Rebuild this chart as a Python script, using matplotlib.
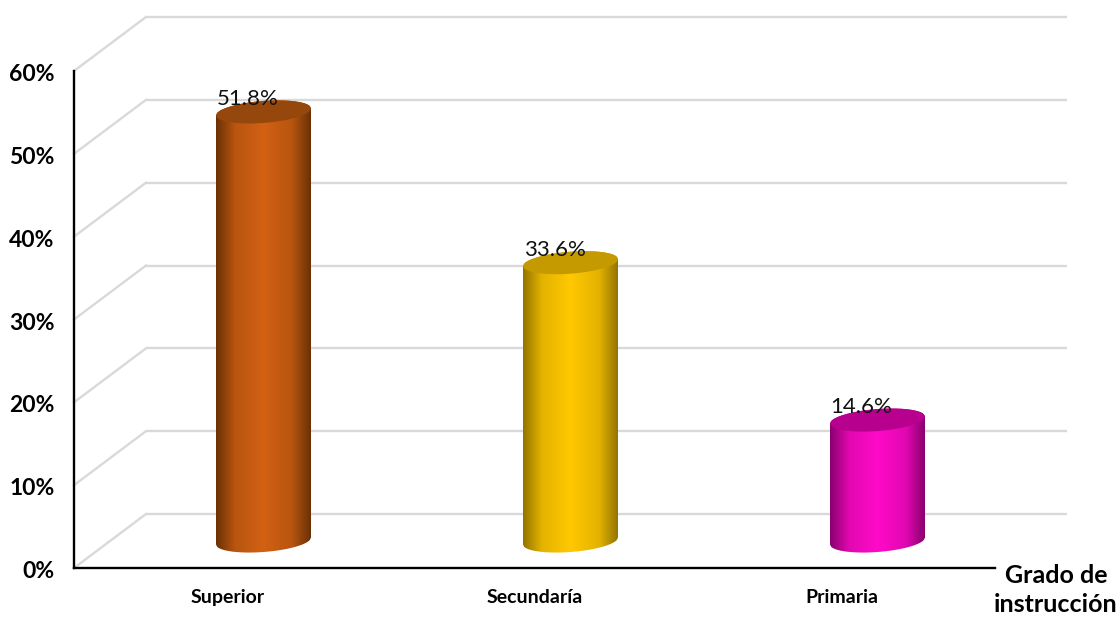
import matplotlib.pyplot as plt
import numpy as np
from matplotlib.colors import LinearSegmentedColormap, to_rgb
from matplotlib.patches import Polygon
from matplotlib.transforms import ScaledTranslation

# Data
categories = ['Superior', 'Secundaría', 'Primaria']
values = [51.8, 33.6, 14.6]
y_ticks = [0, 10, 20, 30, 40, 50, 60]
y_tick_labels = ['0%', '10%', '20%', '30%', '40%', '50%', '60%']

edge_colors = ['#6a3106', '#947400', '#8a006e']
mid_colors = ['#d26113', '#ffc800', '#ff0ac8']
top_colors = ['#96470b', '#c49a00', '#b8008f']

W, H = 1119, 617
plt.rcParams['font.family'] = ['Lato', 'DejaVu Sans']

fig = plt.figure(figsize=(W / 100, H / 100), dpi=100)
ax = fig.add_axes([74 / W, 1 - 568 / H, 921 / W, 497 / H])
ax.set_xlim(0, 3)
ax.set_ylim(0, 60)

# size of one pixel in data units
px = 3 / 921
py = 60 / 497
depth_x = 72 * px
depth_y = 54 * py

# back wall and left side wall
grid = '#d9d9d9'
for t in y_ticks:
    ax.plot([depth_x, 3 + depth_x], [t + depth_y, t + depth_y], color=grid, lw=1.7,
            clip_on=False, zorder=1, solid_capstyle='butt')
    ax.plot([0, depth_x], [t, t + depth_y], color=grid, lw=1.7, clip_on=False, zorder=1)


def shade(edge, mid):
    # dark rim that rises to a broad bright band
    e = np.array(to_rgb(edge))
    m = np.array(to_rgb(mid))
    near = e + 0.75 * (m - e)
    return LinearSegmentedColormap.from_list('c', [
        (0.0, e), (0.2, near), (0.5, m), (0.8, near), (1.0, e)])


# cylinders
half_w = 47.5 * px
tilt = 3.5 * py
semi = 11 * py
xs = np.linspace(-1, 1, 80)
for i, v in enumerate(values):
    cx = i + 0.5 + depth_x / 2
    base = depth_y / 2
    top = base + v
    lower = base + tilt * xs - semi * np.sqrt(1 - xs ** 2)
    upper = top + tilt * xs - semi * np.sqrt(1 - xs ** 2)
    cap_up = top + tilt * xs + semi * np.sqrt(1 - xs ** 2)
    outline = np.vstack([
        np.column_stack([cx + half_w * xs, lower]),
        np.column_stack([cx + half_w * xs[::-1], cap_up[::-1]]),
    ])
    clip = Polygon(outline, closed=True, transform=ax.transData, fc='none', ec='none')
    ax.add_patch(clip)

    im = ax.imshow(np.linspace(0, 1, 256).reshape(1, -1), cmap=shade(edge_colors[i], mid_colors[i]),
                   aspect='auto', extent=[cx - half_w, cx + half_w, 0, top + 3], zorder=3)
    im.set_clip_path(clip)

    cap = np.vstack([
        np.column_stack([cx + half_w * xs, upper]),
        np.column_stack([cx + half_w * xs[::-1], cap_up[::-1]]),
    ])
    ax.add_patch(Polygon(cap, closed=True, fc=top_colors[i], ec='none', zorder=4))

    ax.text(cx - 16 * px, top + 13 * py, f'{v:.1f}%', ha='center', va='center',
            fontsize=16, color='#111111', zorder=5)

ax.set_xlim(0, 3)
ax.set_ylim(0, 60)

ax.spines['top'].set_visible(False)
ax.spines['right'].set_visible(False)
ax.spines['left'].set_linewidth(1.7)
ax.spines['bottom'].set_linewidth(1.7)
ax.patch.set_visible(False)

ax.set_yticks(y_ticks)
ax.set_yticklabels(y_tick_labels, fontsize=16.5, fontweight='bold')
ax.set_xticks([i + 0.5 for i in range(len(categories))])
ax.set_xticklabels(categories, fontsize=14, fontweight='bold')
ax.tick_params(axis='y', length=0, pad=14)
ax.tick_params(axis='x', length=0, pad=15)

# nudge the percent labels down a little
nudge = ScaledTranslation(0, -1.5 / 100, fig.dpi_scale_trans)
for lab in ax.get_yticklabels():
    lab.set_transform(lab.get_transform() + nudge)

fig.text(1056 / W, 1 - 590 / H, 'Grado de\ninstrucción', ha='center', va='center',
         fontsize=18, fontweight='bold', linespacing=1.3)

fig.savefig('out.png', dpi=100)
